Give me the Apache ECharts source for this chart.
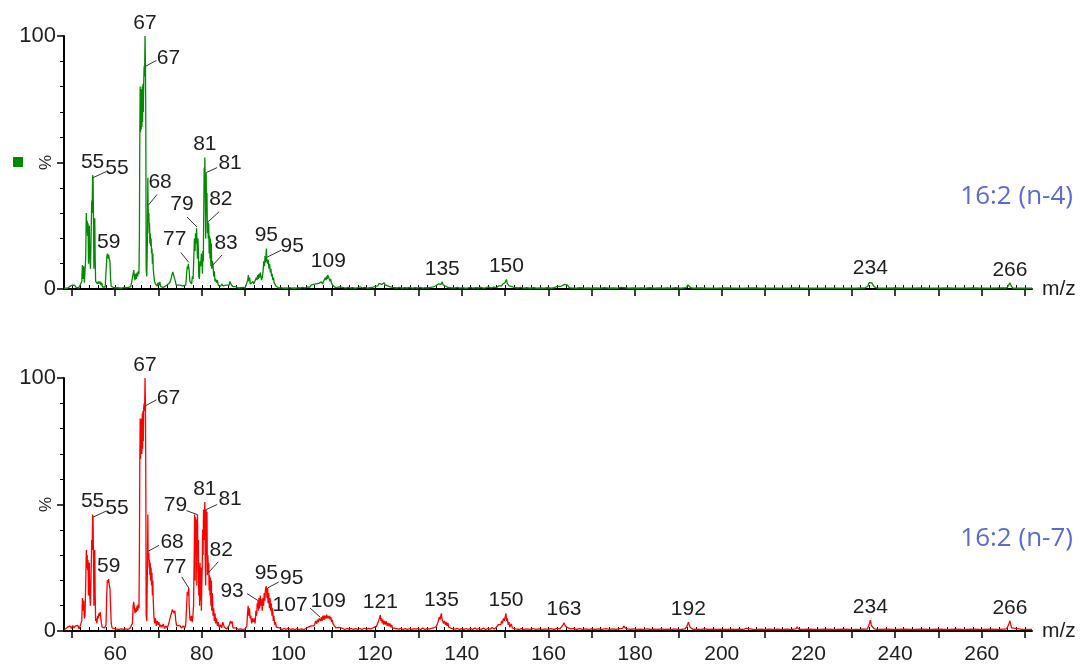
<!DOCTYPE html>
<html>
<head>
<meta charset="utf-8">
<script src="https://cdn.jsdelivr.net/npm/echarts@6/dist/echarts.min.js"></script>
<style>
  html, body { margin: 0; padding: 0; background: #ffffff; }
  #chart { width: 1081px; height: 664px; }
</style>
</head>
<body>
<div id="chart"></div>
<script>
// Mass spectra of two 16:2 positional isomers, relative intensity (%) against m/z.

const panelTitles = ['16:2 (n-4)', '16:2 (n-7)'];

// [m/z, relative intensity %] profile for 16:2 (n-4)
const spectrumN4 = [
  [48.2,0.3],[48.6,0.4],[49.0,0.3],[49.4,0.5],[49.7,1.2],[49.9,0.6],[50.2,1.5],[50.4,0.8],[50.7,1.4],[51.0,0.6],
  [51.3,1.0],[51.6,0.4],[52.0,0.6],[52.3,3],[52.45,9.5],[52.6,4],[52.75,9],[52.9,2.5],[53.05,3],[53.2,12],
  [53.35,30],[53.45,22],[53.55,27],[53.65,21],[53.75,26],[53.85,10],[53.95,22],[54.05,25],[54.15,13],[54.3,8],
  [54.45,20],[54.6,35],[54.7,30],[54.8,45],[54.9,44],[55.0,30],[55.1,8],[55.2,20],[55.3,28],[55.4,12],
  [55.5,3],[55.7,3.5],[55.9,2],[56.1,3],[56.3,2.2],[56.5,3],[56.7,1.5],[56.9,2.5],[57.1,0.8],[57.4,0.6],
  [57.7,0.8],[57.95,1.5],[58.1,13],[58.25,14],[58.4,12],[58.5,13.5],[58.65,12],[58.8,11],[58.95,4],[59.1,1],
  [59.4,0.6],[59.8,0.5],[60.2,0.4],[60.6,0.5],[61.0,0.4],[61.5,0.3],[62.0,0.6],[62.4,0.3],[62.8,0.5],[63.2,0.4],
  [63.6,0.8],[64.0,1.5],[64.15,6],[64.3,7.5],[64.45,5],[64.6,3.5],[64.75,6],[64.9,4],[65.05,6.5],[65.2,5],
  [65.35,7],[65.5,6],[65.6,20],[65.7,62],[65.78,80],[65.86,62],[65.94,79],[66.02,63],[66.1,78],[66.18,64],
  [66.26,80],[66.34,66],[66.42,81],[66.5,70],[66.6,82],[66.7,88],[66.8,84],[66.9,100],[67.0,88],[67.08,64],
  [67.16,8],[67.3,5],[67.45,20],[67.55,44],[67.6,33],[67.7,26],[67.78,30],[67.86,22],[67.94,26],[68.02,18],
  [68.1,22],[68.2,17],[68.3,20],[68.4,14],[68.5,16],[68.6,10],[68.7,14],[68.8,8],[68.95,5],[69.1,3],
  [69.3,2],[69.5,2.5],[69.7,1.2],[69.9,2.5],[70.1,1.5],[70.3,2.8],[70.5,1],[70.8,0.8],[71.1,0.6],[71.5,0.8],
  [71.9,1.5],[72.2,0.8],[72.6,2.5],[72.9,4],[73.1,5.5],[73.3,6.8],[73.5,5.5],[73.7,6],[73.9,3],[74.1,1.5],
  [74.4,1],[74.8,1.5],[75.2,0.8],[75.6,1.2],[76.0,0.8],[76.3,1.5],[76.5,6],[76.65,9],[76.8,8],[76.9,10],
  [77.0,10.5],[77.1,7],[77.25,3],[77.45,3.5],[77.65,2],[77.85,5],[78.0,4],[78.15,12],[78.3,20],[78.45,15],
  [78.55,22],[78.7,18],[78.8,24],[78.9,24.5],[79.0,12],[79.1,20],[79.2,16],[79.3,5],[79.45,4],[79.6,11],
  [79.75,9],[79.9,14],[80.05,12],[80.15,6],[80.25,15],[80.35,11],[80.45,30],[80.55,48],[80.65,40],[80.7,52],
  [80.8,38],[80.9,20],[81.0,46],[81.1,33],[81.2,38],[81.3,22],[81.4,26.5],[81.5,20],[81.6,26],[81.7,14],
  [81.8,21],[81.9,12],[82.0,20],[82.1,9],[82.2,18],[82.3,8],[82.45,11],[82.6,9.5],[82.75,5],[82.9,7],
  [83.05,3],[83.2,4],[83.4,2.5],[83.6,3.5],[83.8,1.5],[84.0,2],[84.3,1],[84.6,2],[84.9,1.2],[85.2,0.8],
  [85.6,1.5],[86.0,0.8],[86.3,1.5],[86.5,3],[86.7,2],[86.9,2.5],[87.1,1],[87.5,0.6],[88.0,0.8],[88.5,0.4],
  [89.0,0.5],[89.5,0.6],[90.0,0.4],[90.4,1],[90.6,3.5],[90.75,5.5],[90.9,3],[91.05,4.5],[91.2,2],[91.4,2.5],
  [91.6,1.5],[91.8,3],[92.0,2],[92.2,2.5],[92.4,1.5],[92.6,4.5],[92.75,3.5],[92.9,5.5],[93.05,4],[93.2,6],
  [93.35,4.5],[93.5,6.5],[93.65,5],[93.8,3.5],[94.0,5],[94.15,7],[94.3,11],[94.45,9],[94.6,13],[94.75,10.5],
  [94.9,16],[95.0,12],[95.1,12.6],[95.2,10],[95.35,11.5],[95.5,8],[95.65,10],[95.8,6.5],[95.95,8],[96.1,5],
  [96.25,6],[96.4,3.5],[96.55,4.5],[96.7,2.5],[96.9,3],[97.1,1.2],[97.4,0.6],[97.8,0.4],[98.3,0.5],[98.8,0.3],
  [99.3,0.4],[99.8,0.3],[100.3,0.5],[100.8,0.3],[101.3,0.4],[101.8,0.3],[102.3,0.5],[102.8,0.4],[103.3,0.6],[103.8,0.4],
  [104.3,0.8],[104.6,1.2],[104.9,0.6],[105.2,1.5],[105.5,1],[105.8,1.8],[106.1,1.2],[106.4,2],[106.7,1.5],[107.0,2.2],
  [107.3,1.5],[107.6,2.8],[107.9,2],[108.1,3],[108.3,2.5],[108.5,4.5],[108.65,3.5],[108.8,5],[108.95,4],[109.05,5.5],
  [109.2,6],[109.3,4.5],[109.45,5],[109.6,3],[109.75,4],[109.9,2.5],[110.05,3.2],[110.2,1.5],[110.4,2],[110.6,0.8],
  [110.9,0.5],[111.3,0.4],[111.8,0.8],[112.2,0.4],[112.7,0.5],[113.2,0.3],[113.8,0.6],[114.3,0.4],[114.8,0.5],[115.4,0.3],
  [116.0,0.5],[116.6,0.8],[117.1,0.4],[117.6,0.6],[118.2,0.3],[118.8,0.5],[119.4,0.6],[119.9,1],[120.3,1.5],[120.6,1.2],
  [120.9,2.2],[121.1,1.5],[121.3,2.6],[121.5,1.8],[121.7,2.4],[121.9,1.2],[122.1,2.5],[122.3,1.6],[122.6,2.2],[122.9,1.2],
  [123.2,1.8],[123.5,0.8],[123.8,1.5],[124.1,0.6],[124.5,0.8],[125.0,0.4],[125.6,0.6],[126.2,0.3],[126.8,0.5],[127.4,0.4],
  [128.0,0.6],[128.6,0.3],[129.2,0.5],[129.8,0.4],[130.4,0.6],[131.0,0.3],[131.6,0.5],[132.2,0.4],[132.8,0.6],[133.4,0.8],
  [133.9,1.2],[134.3,0.8],[134.6,2],[134.8,1.5],[135.0,2.6],[135.2,1.8],[135.5,2.8],[135.7,1.6],[135.9,2.2],[136.2,1.2],
  [136.5,1.5],[136.8,0.6],[137.2,0.8],[137.6,0.5],[138.0,0.7],[138.5,0.4],[139.0,0.6],[139.6,0.3],[140.2,0.5],[140.8,0.3],
  [141.4,0.4],[142.0,0.6],[142.6,0.3],[143.2,0.5],[143.8,0.4],[144.4,0.6],[145.0,0.3],[145.6,0.5],[146.2,0.8],[146.8,0.4],
  [147.4,0.7],[148.0,0.5],[148.5,1.2],[148.9,1.6],[149.2,1.2],[149.5,2],[149.8,1.6],[150.0,2.6],[150.3,3.8],[150.5,2.2],
  [150.7,2.8],[150.9,1.2],[151.2,1.8],[151.5,1],[151.8,1.4],[152.1,0.6],[152.5,0.9],[153.0,0.4],[153.5,0.6],[154.2,0.3],
  [155.0,0.5],[155.8,0.3],[156.6,0.5],[157.4,0.3],[158.2,0.4],[159.0,0.3],[159.8,0.5],[160.6,0.3],[161.4,0.5],[161.9,1],
  [162.3,0.6],[162.8,1],[163.2,0.8],[163.7,1.8],[164.0,1.2],[164.4,1.5],[164.8,0.5],[165.5,0.4],[166.4,0.3],[167.3,0.5],
  [168.2,0.3],[169.1,0.4],[170.0,0.3],[171.0,0.4],[172.0,0.3],[173.0,0.5],[174.0,0.3],[175.0,0.4],[176.0,0.3],[176.8,0.6],
  [177.2,1],[177.6,0.5],[178.4,0.3],[179.4,0.4],[180.4,0.3],[181.4,0.4],[182.4,0.3],[183.4,0.5],[184.4,0.3],[185.4,0.4],
  [186.4,0.3],[187.4,0.4],[188.4,0.3],[189.4,0.5],[190.4,0.3],[191.4,0.4],[191.9,0.8],[192.2,1.6],[192.5,1],[192.8,0.5],
  [193.5,0.3],[195,0.4],[197,0.3],[199,0.3],[201,0.4],[203,0.3],[205,0.3],[207,0.4],[209,0.3],[211,0.3],
  [213,0.3],[215,0.3],[217,0.4],[219,0.3],[221,0.3],[223,0.3],[225,0.3],[227,0.3],[229,0.3],[231,0.3],
  [233,0.4],[233.7,1],[234.0,2.5],[234.3,3.2],[234.6,2.4],[234.9,2],[235.2,0.8],[236,0.3],[238,0.3],[240,0.4],
  [242,0.3],[244,0.3],[246,0.4],[248,0.3],[250,0.3],[252,0.4],[254,0.3],[256,0.3],[258,0.4],[260,0.3],
  [262,0.3],[264,0.4],[265.8,0.4],[266.2,1.5],[266.5,2.4],[266.8,1.2],[267.2,0.3],[269,0.3],[271.6,0.3]
];

// [m/z, relative intensity %] profile for 16:2 (n-7)
const spectrumN7 = [
  [48.2,0.4],[48.6,0.6],[49.0,1.5],[49.3,0.8],[49.6,2],[49.9,1],[50.2,2.2],[50.5,1.2],[50.8,2],[51.1,1.5],
  [51.4,2.2],[51.7,0.8],[52.0,1.2],[52.3,4],[52.45,13],[52.6,8],[52.75,12],[52.9,5],[53.05,6],[53.2,18],
  [53.35,32],[53.45,25],[53.55,30],[53.65,24],[53.75,28],[53.85,14],[53.95,24],[54.05,27],[54.15,14],[54.3,10],
  [54.45,22],[54.6,36],[54.7,32],[54.8,46],[54.9,45],[55.0,30],[55.1,10],[55.2,22],[55.3,32],[55.4,14],
  [55.5,4],[55.65,5],[55.8,3],[55.95,6],[56.1,5],[56.25,7],[56.4,6],[56.55,7.5],[56.7,5],[56.85,3],
  [57.0,1.5],[57.3,1],[57.6,1.2],[57.9,2.5],[58.05,14],[58.2,20],[58.35,19],[58.5,20.5],[58.65,18],[58.8,17],
  [58.95,10],[59.1,3],[59.3,1.2],[59.7,1],[60.1,0.8],[60.5,1],[60.9,0.6],[61.4,0.8],[61.9,0.6],[62.4,0.8],
  [62.9,0.6],[63.4,1],[63.8,1.5],[64.0,3],[64.15,10],[64.3,11.5],[64.45,9],[64.6,7],[64.75,9],[64.9,7.5],
  [65.05,10],[65.2,8],[65.35,10.5],[65.5,9],[65.6,30],[65.7,68],[65.78,84],[65.86,68],[65.94,83],[66.02,70],
  [66.1,84],[66.18,70],[66.26,86],[66.34,72],[66.42,87],[66.5,75],[66.6,88],[66.7,90],[66.8,87],[66.9,100],
  [67.0,89],[67.08,60],[67.16,6],[67.3,4],[67.45,25],[67.55,46],[67.6,31.5],[67.7,28],[67.78,31],[67.86,25],
  [67.94,28],[68.02,22],[68.1,27],[68.2,20],[68.3,25],[68.4,18],[68.5,23],[68.6,14],[68.7,20],[68.8,12],
  [68.95,6],[69.1,3],[69.3,5],[69.5,2],[69.7,4],[69.9,2.5],[70.1,3.5],[70.3,1.5],[70.5,2.5],[70.8,1.5],
  [71.1,2.8],[71.4,1],[71.7,2],[72.0,1.2],[72.3,2.5],[72.6,4.5],[72.8,6],[73.0,7],[73.2,8.5],[73.4,9],
  [73.6,7],[73.8,8],[74.0,4],[74.2,2],[74.5,1.5],[74.9,2.2],[75.3,1.2],[75.7,2],[76.1,1.2],[76.3,2.5],
  [76.5,10],[76.65,15.5],[76.8,14],[76.9,16],[77.0,17],[77.1,10],[77.25,5],[77.4,4],[77.6,6],[77.8,3.5],
  [77.95,6],[78.1,10],[78.25,30],[78.35,46],[78.45,20],[78.55,45],[78.65,30],[78.75,44],[78.85,18],[79.0,46],
  [79.1,30],[79.2,36],[79.3,14],[79.4,26],[79.5,10],[79.6,27],[79.7,12],[79.8,25],[79.9,8],[80.0,18],
  [80.1,25],[80.2,40],[80.3,30],[80.4,48],[80.5,36],[80.6,45],[80.7,51],[80.8,28],[80.9,18],[81.0,48],
  [81.1,30],[81.2,47],[81.3,22],[81.4,30],[81.5,23],[81.6,27],[81.7,16],[81.8,22],[81.9,14],[82.0,21],
  [82.1,10],[82.2,20],[82.3,8],[82.45,15],[82.6,6],[82.75,9],[82.9,4],[83.05,7],[83.2,3],[83.4,5],
  [83.6,2],[83.8,3.5],[84.0,1.5],[84.3,2.5],[84.6,1.2],[84.85,3.5],[85.0,4],[85.2,1.5],[85.5,1.2],[85.8,0.8],
  [86.1,1.2],[86.4,2.5],[86.6,4],[86.8,3],[87.0,3.8],[87.2,1.2],[87.6,0.8],[88.0,1.2],[88.5,0.6],[89.0,0.8],
  [89.5,0.5],[90.0,0.8],[90.4,2],[90.55,7],[90.7,10],[90.85,6],[91.0,9],[91.15,5],[91.3,6],[91.5,3],
  [91.7,5],[91.9,3.5],[92.1,5],[92.3,3],[92.5,8],[92.65,6],[92.8,11],[92.9,9],[93.0,12],[93.1,8],
  [93.2,13],[93.35,9],[93.5,14],[93.65,10],[93.8,12.5],[93.95,8],[94.1,13],[94.25,10],[94.4,15],[94.55,12],
  [94.7,16.5],[94.9,17.7],[95.05,13],[95.2,17],[95.3,11],[95.45,15],[95.6,9],[95.75,13],[95.9,8],[96.05,11],
  [96.2,6],[96.35,9],[96.5,4],[96.65,6],[96.8,2.5],[97.0,3.5],[97.2,1.5],[97.5,0.8],[98.0,1.2],[98.5,0.6],
  [99.0,1],[99.5,0.6],[100.0,1.2],[100.5,0.6],[101.0,0.8],[101.5,0.5],[102.0,1],[102.5,0.6],[103.0,0.8],[103.5,0.5],
  [104.0,1],[104.5,1.5],[104.9,1],[105.3,2],[105.6,2.5],[105.9,2],[106.1,3],[106.3,4],[106.5,2.8],[106.7,4.5],
  [106.9,3.5],[107.1,5],[107.3,5.5],[107.45,4],[107.6,5.5],[107.75,4],[107.9,6],[108.05,4.5],[108.2,6.2],[108.35,4.5],
  [108.5,6],[108.65,5],[108.8,6.5],[108.95,5],[109.05,6],[109.2,6.7],[109.35,5],[109.5,6],[109.65,4.5],[109.8,5.5],
  [109.95,3.5],[110.1,4.5],[110.25,3],[110.4,3.5],[110.6,2],[110.8,2.2],[111.0,1.2],[111.3,1],[111.7,1.4],[112.1,0.8],
  [112.5,1],[113.0,0.6],[113.5,1],[114.0,0.7],[114.5,1],[115.0,0.6],[115.5,0.9],[116.0,0.6],[116.5,1],[117.0,0.6],
  [117.5,1.1],[118.0,0.7],[118.5,1],[119.0,0.8],[119.5,1.2],[119.9,0.8],[120.3,1.8],[120.6,2.5],[120.8,4],[121.0,5],
  [121.2,6.3],[121.35,4],[121.5,5],[121.65,3],[121.8,4.5],[122.0,2.5],[122.2,4],[122.4,2.5],[122.6,3.8],[122.8,2],
  [123.0,3.2],[123.2,1.8],[123.4,3],[123.6,1.5],[123.8,2.5],[124.0,1.2],[124.3,1.8],[124.6,1],[125.0,1.2],[125.5,0.7],
  [126.0,1],[126.5,0.6],[127.0,0.9],[127.5,0.6],[128.0,1],[128.5,0.6],[129.0,0.9],[129.5,0.7],[130.0,1],[130.5,0.6],
  [131.0,1.2],[131.5,0.6],[132.0,0.9],[132.5,0.7],[133.0,1],[133.5,1.2],[134.0,1.6],[134.3,2.5],[134.6,4],[134.8,5.5],
  [135.0,4.5],[135.15,6],[135.3,7],[135.45,4.5],[135.6,5],[135.8,3],[136.0,4],[136.2,2.5],[136.4,3.5],[136.6,2],
  [136.8,3.2],[137.0,1.5],[137.3,2.2],[137.6,1],[138.0,1.2],[138.5,0.7],[139.0,1],[139.5,0.6],[140.0,0.9],[140.5,0.6],
  [141.0,1],[141.5,0.6],[142.0,0.9],[142.5,0.6],[143.0,1.2],[143.5,0.7],[144.0,1],[144.5,0.6],[145.0,1.2],[145.5,0.6],
  [146.0,1],[146.5,0.7],[147.0,1.4],[147.5,0.8],[148.0,1.5],[148.4,2.5],[148.7,3.2],[149.0,2.5],[149.2,4],[149.4,3],
  [149.6,5],[149.8,4],[150.0,5.5],[150.2,7],[150.35,4],[150.5,5],[150.7,2.5],[150.9,3.5],[151.1,1.5],[151.4,2.8],
  [151.7,1.2],[152.0,1.8],[152.4,0.8],[152.8,1],[153.3,0.6],[153.8,0.9],[154.3,0.6],[155.0,0.8],[155.7,0.6],[156.4,0.9],
  [157.1,0.6],[157.8,0.8],[158.5,0.6],[159.2,0.8],[159.9,0.6],[160.6,0.9],[161.3,0.6],[162.0,1],[162.6,0.8],[163.0,1.5],
  [163.3,2.2],[163.6,3.3],[163.9,2],[164.2,2.6],[164.5,1.2],[164.8,1.6],[165.2,0.8],[165.8,1],[166.5,0.6],[167.2,0.9],
  [167.9,0.6],[168.6,0.8],[169.3,0.6],[170.0,0.8],[170.8,0.6],[171.6,0.8],[172.4,0.6],[173.2,0.9],[174.0,0.6],[174.8,0.8],
  [175.6,0.6],[176.4,0.9],[176.8,1.5],[177.1,1],[177.4,2],[177.7,1.2],[178.0,1.8],[178.3,0.8],[178.8,0.6],[179.6,0.8],
  [180.4,0.6],[181.2,0.7],[182.0,0.6],[182.8,0.8],[183.6,0.6],[184.4,0.7],[185.2,0.6],[186.0,0.8],[186.8,0.6],[187.6,0.7],
  [188.4,0.6],[189.2,0.8],[190.0,0.6],[190.8,0.7],[191.5,0.8],[191.9,1.6],[192.1,2.5],[192.3,3.5],[192.5,2.4],[192.7,1.5],
  [192.9,0.8],[193.4,0.6],[194.2,0.7],[195,0.6],[196,0.8],[197,0.6],[198,0.7],[199,0.6],[200,0.7],[201,0.6],
  [202,0.7],[203,0.6],[204,0.7],[205,0.6],[205.6,1],[206,0.6],[207,0.7],[208,0.6],[209,0.7],[210,0.6],
  [211,0.7],[212,0.6],[213,0.7],[214,0.6],[215,0.7],[216,0.6],[217.1,0.8],[217.4,1.6],[217.7,0.8],[218.5,0.6],
  [220,0.7],[222,0.6],[224,0.7],[226,0.6],[228,0.7],[230,0.6],[232,0.7],[233.6,0.8],[233.9,2],[234.1,3],
  [234.3,4.3],[234.5,2.6],[234.7,1.8],[234.9,2.4],[235.2,0.8],[236,0.6],[238,0.7],[240,0.6],[242,0.7],[244,0.6],
  [246,0.7],[248,0.6],[250,0.7],[252,0.6],[254,0.7],[256,0.6],[258,0.7],[260,0.6],[262,0.7],[264,0.6],
  [265.7,0.8],[266.0,1.8],[266.3,3],[266.5,4],[266.7,2.5],[266.9,1.2],[267.3,0.6],[269,0.7],[271.6,0.6]
];

// Annotated peaks: [m/z of the labelled point, label text]
const peakLabelsN4 = [
  [66.9,'67'],[67.0,'67'],[54.8,'55'],[54.9,'55'],[58.5,'59'],[67.6,'68'],[77.0,'77'],[78.9,'79'],
  [80.7,'81'],[81.0,'81'],[81.4,'82'],[82.6,'83'],[94.9,'95'],[95.1,'95'],[109.2,'109'],
  [135.5,'135'],[150.3,'150'],[234.3,'234'],[266.5,'266']
];
const peakLabelsN7 = [
  [66.9,'67'],[67.0,'67'],[54.8,'55'],[54.9,'55'],[58.5,'59'],[67.6,'68'],[77.0,'77'],[79.0,'79'],
  [80.7,'81'],[81.0,'81'],[81.5,'82'],[93.0,'93'],[94.9,'95'],[95.2,'95'],[107.3,'107'],[109.2,'109'],
  [121.2,'121'],[135.3,'135'],[150.2,'150'],[163.6,'163'],[192.3,'192'],[234.3,'234'],[266.5,'266']
];

// Axis ticks
const mzRange = [48.2, 271.6];
const mzLabelTicks = [60, 80, 100, 120, 140, 160, 180, 200, 220, 240, 260];
const mzMajorTicks = [50, 60, 70, 80, 90, 100, 110, 120, 130, 140, 150, 160, 170, 180, 190, 200, 210, 220, 230, 240, 250, 260, 270];
const mzMinorTicks = [];
for (let v = 50; v <= 270; v += 2) mzMinorTicks.push(v);

// Label placement: null = centred above the point; otherwise
// [text dx, text dy, leader end dx, leader end dy] in pixels.
const placeN4 = [
  null, [23,-8,11,-6], null, [24,-9,13,-6], null, [12,-23,9,-11], [-14,-23,-8,-10], [-15,-23,-10,-10],
  null, [24,-9,11,-5], [13,-23,11,-10], [13,-22,9,-10], null, [25,-11,14,-7], null,
  null, null, null, null
];
const placeN7 = [
  null, [23,-8,11,-6], null, [24,-9,13,-6], null, [24,-9,11,-6], [-14,-21,-7,-11], [-22,-9,-11,-4],
  null, [24,-10,11,-5], [13,-23,10,-11], [-26,-9,-11,-7], null, [24,-10,11,-6], [-30,-12,-10,-9], null,
  null, null, null, null, null, null, null
];

const TEXT_FONT = '"Liberation Sans", Arial, sans-serif';
const TEXT_COLOR = '#1e1e1e';

function intensityAt(spec, mz) {
  const hit = spec.find(p => Math.abs(p[0] - mz) < 1e-6);
  return hit ? hit[1] : 0;
}

function labelSeries(spec, labels, place, axisIdx, yIdx) {
  const data = labels.map(l => [l[0], intensityAt(spec, l[0])]);
  return {
    type: 'custom',
    xAxisIndex: axisIdx,
    yAxisIndex: yIdx,
    silent: true,
    z: 10,
    data: data,
    renderItem: function (params, api) {
      const p = api.coord([api.value(0), api.value(1)]);
      const pl = place[params.dataIndex];
      const text = labels[params.dataIndex][1];
      const children = [];
      let tx = p[0], ty = p[1] - 13;
      if (pl) {
        tx = p[0] + pl[0];
        ty = p[1] + pl[1];
        children.push({
          type: 'line',
          shape: { x1: p[0], y1: p[1], x2: p[0] + pl[2], y2: p[1] + pl[3] },
          style: { stroke: '#333333', lineWidth: 1 }
        });
      }
      children.push({
        type: 'text',
        x: tx, y: ty,
        style: {
          text: text, fill: TEXT_COLOR, font: '21px ' + TEXT_FONT,
          align: 'center', verticalAlign: 'middle',
          textAlign: 'center', textVerticalAlign: 'middle'
        }
      });
      return { type: 'group', children: children };
    }
  };
}

function mainXAxis(gridIndex, withLabels) {
  return {
    type: 'value', gridIndex: gridIndex, min: mzRange[0], max: mzRange[1],
    name: 'm/z', nameLocation: 'end', nameGap: 10, nameMoveOverlap: false,
    nameTextStyle: { fontFamily: TEXT_FONT, fontSize: 21, color: TEXT_COLOR, verticalAlign: 'middle' },
    axisLine: { show: true, onZero: false, lineStyle: { color: '#000', width: 2 } },
    axisTick: { show: true, customValues: mzMajorTicks, length: 7, lineStyle: { color: '#000', width: 1.5 } },
    axisLabel: withLabels
      ? { show: true, customValues: mzLabelTicks, margin: 13, fontFamily: TEXT_FONT, fontSize: 21, color: TEXT_COLOR }
      : { show: false },
    splitLine: { show: false }
  };
}

function minorXAxis(gridIndex) {
  return {
    type: 'value', gridIndex: gridIndex, min: mzRange[0], max: mzRange[1],
    axisLine: { show: false },
    axisTick: { show: true, customValues: mzMinorTicks, length: 4, lineStyle: { color: '#000', width: 1 } },
    axisLabel: { show: false },
    splitLine: { show: false }
  };
}

function yAxisFor(gridIndex) {
  return {
    type: 'value', gridIndex: gridIndex, min: 0, max: 100, interval: 50,
    name: '%', nameLocation: 'middle', nameGap: 9, nameRotate: 90, nameMoveOverlap: false,
    nameTextStyle: { fontFamily: TEXT_FONT, fontSize: 17, color: TEXT_COLOR },
    axisLine: { show: true, lineStyle: { color: '#000', width: 2 } },
    axisTick: { show: true, length: 7, lineStyle: { color: '#000', width: 1.5 } },
    minorTick: { show: true, splitNumber: 5, length: 4, lineStyle: { color: '#000', width: 1 } },
    axisLabel: {
      margin: 8, fontFamily: TEXT_FONT, fontSize: 22, color: TEXT_COLOR,
      formatter: v => (v === 50 ? '' : String(v))
    },
    splitLine: { show: false },
    minorSplitLine: { show: false }
  };
}

const chart = echarts.init(document.getElementById('chart'), null, { renderer: 'canvas' });

chart.setOption({
  animation: false,
  backgroundColor: '#ffffff',
  grid: [
    { left: 64, right: 49, top: 36, height: 253, outerBoundsMode: 'none', containLabel: false },
    { left: 64, right: 49, top: 378, height: 253, outerBoundsMode: 'none', containLabel: false }
  ],
  xAxis: [mainXAxis(0, false), minorXAxis(0), mainXAxis(1, true), minorXAxis(1)],
  yAxis: [yAxisFor(0), yAxisFor(1)],
  series: [
    {
      name: panelTitles[0], type: 'line', xAxisIndex: 0, yAxisIndex: 0,
      data: spectrumN4, showSymbol: false, symbol: 'none', z: 3,
      lineStyle: { color: '#008a00', width: 1.3 }
    },
    {
      name: panelTitles[1], type: 'line', xAxisIndex: 2, yAxisIndex: 1,
      data: spectrumN7, showSymbol: false, symbol: 'none', z: 3,
      lineStyle: { color: '#ff0000', width: 1.3 }
    },
    labelSeries(spectrumN4, peakLabelsN4, placeN4, 0, 0),
    labelSeries(spectrumN7, peakLabelsN7, placeN7, 2, 1)
  ],
  graphic: [
    { type: 'rect', left: 13, top: 157, shape: { width: 10, height: 10 }, style: { fill: '#008a00' } },
    {
      type: 'text', right: 8, top: 184,
      style: { text: panelTitles[0], fill: '#5a6ad6', font: '26px "Open Sans", sans-serif' }
    },
    {
      type: 'text', right: 8, top: 526,
      style: { text: panelTitles[1], fill: '#5a6ad6', font: '26px "Open Sans", sans-serif' }
    }
  ]
});
</script>
</body>
</html>
